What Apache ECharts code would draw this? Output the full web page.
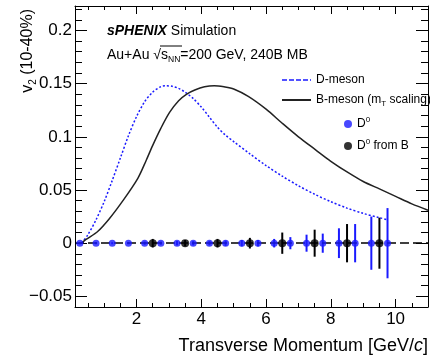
<!DOCTYPE html>
<html>
<head>
<meta charset="utf-8">
<script src="https://cdn.jsdelivr.net/npm/echarts@6/dist/echarts.min.js"></script>
<style>
html,body{margin:0;padding:0;background:#fff;}
#c{width:430px;height:359px;}
</style>
</head>
<body>
<div id="c"></div>
<script>
// ---- data ----
const dMesonCurve = [[0.3,0.0],[0.5,0.008],[0.75,0.022],[1.0,0.039],[1.25,0.059],[1.5,0.08],[1.75,0.101],[2.0,0.119],[2.25,0.133],[2.5,0.142],[2.75,0.1472],[2.9,0.148],[3.1,0.1475],[3.3,0.1455],[3.5,0.142],[3.75,0.136],[4.0,0.128],[4.25,0.1185],[4.5,0.109],[4.75,0.1015],[5.0,0.0955],[5.5,0.084],[6.0,0.073],[6.5,0.063],[7.0,0.054],[7.5,0.046],[8.0,0.039],[8.5,0.033],[9.0,0.028],[9.5,0.024],[9.75,0.022]];
const bMesonCurve = [[0.3,0.0],[0.44,0.0035],[0.8,0.011],[1.16,0.023],[1.58,0.04],[2.04,0.061],[2.3,0.078],[2.5,0.092],[2.75,0.108],[3.02,0.123],[3.3,0.134],[3.54,0.14],[3.8,0.144],[4.1,0.147],[4.4,0.148],[4.7,0.147],[5.0,0.145],[5.45,0.138],[6.0,0.126],[6.49,0.113],[7.0,0.1],[7.52,0.088],[8.0,0.077],[8.55,0.066],[9.0,0.058],[9.5,0.051],[10.0,0.044],[10.5,0.037],[11.0,0.031]];
const d0X = [0.25,0.75,1.25,1.75,2.25,2.75,3.25,3.75,4.25,4.75,5.25,5.75,6.25,6.75,7.25,7.75,8.25,8.75,9.25,9.75];
const d0Y = [0,0,0,0,0,0,0,0,0,0,0,0,0,0,0,0,0,0,0,0];
const d0Err = [0.001,0.001,0.001,0.001,0.0015,0.0015,0.002,0.002,0.002,0.0025,0.003,0.003,0.004,0.0057,0.008,0.009,0.014,0.018,0.025,0.033];
const d0bX = [2.5,3.5,4.5,5.5,6.5,7.5,8.5,9.5];
const d0bY = [0,0,0,0,0,0,0,0];
const d0bErr = [0.004,0.003,0.004,0.005,0.010,0.0127,0.018,0.024];
const xMajorTicks = [2,4,6,8,10];
const xMinorTicks = [0.5,1,1.5,2.5,3,3.5,4.5,5,5.5,6.5,7,7.5,8.5,9,9.5,10.5];
const yMajorTicks = [-0.05,0,0.05,0.1,0.15,0.2];
const yMinorTicks = [-0.06,-0.04,-0.03,-0.02,-0.01,0.01,0.02,0.03,0.04,0.06,0.07,0.08,0.09,0.11,0.12,0.13,0.14,0.16,0.17,0.18,0.19,0.21,0.22];

const FONT = 'Liberation Sans';
const BLUE = '#1a1aff';
const xMin = 0.1, xMax = 11, yMin = -0.06, yMax = 0.223;

function xAxisDef(pos, ticks, len, showLine, showLabel) {
  return {
    type: 'value', min: xMin, max: xMax, position: pos,
    axisLine: {show: showLine, onZero: false, lineStyle: {color: '#000', width: 1}},
    axisTick: {show: true, inside: true, length: len, customValues: ticks, lineStyle: {color: '#000', width: 1}},
    axisLabel: {show: showLabel, customValues: ticks, fontFamily: FONT, fontSize: 17, color: '#000', margin: 4},
    splitLine: {show: false}
  };
}
function yAxisDef(pos, ticks, len, showLine, showLabel) {
  return {
    type: 'value', min: yMin, max: yMax, position: pos,
    axisLine: {show: showLine, onZero: false, lineStyle: {color: '#000', width: 1}},
    axisTick: {show: true, inside: true, length: len, customValues: ticks, lineStyle: {color: '#000', width: 1}},
    axisLabel: {show: showLabel, customValues: ticks, fontFamily: FONT, fontSize: 17, color: '#000', margin: 3,
      formatter: v => String(+v.toFixed(3)).replace('-', '\u2212')},
    splitLine: {show: false}
  };
}
function errData(xs, ys, es) { return xs.map((x, i) => [x, ys[i] - es[i], ys[i] + es[i]]); }
function errSeries(data, color) {
  return {
    type: 'custom', xAxisIndex: 0, yAxisIndex: 0, data: data, z: 4, silent: true,
    encode: {x: 0, y: [1, 2]},
    renderItem: function (params, api) {
      const p1 = api.coord([api.value(0), api.value(1)]);
      const p2 = api.coord([api.value(0), api.value(2)]);
      return {type: 'line', shape: {x1: p1[0], y1: p1[1], x2: p2[0], y2: p2[1]}, style: {stroke: color, lineWidth: 2}};
    }
  };
}

const chart = echarts.init(document.getElementById('c'), null, {renderer: 'canvas'});
const richBase = {
  t: {fontFamily: FONT, fontSize: 12, color: '#000', lineHeight: 16},
  sub: {fontFamily: FONT, fontSize: 8, color: '#000', lineHeight: 16, verticalAlign: 'bottom'},
  sup: {fontFamily: FONT, fontSize: 8, color: '#000', lineHeight: 16, verticalAlign: 'top'}
};
chart.setOption({
  animation: false,
  grid: {left: 75, right: 2, top: 6, bottom: 52},
  xAxis: [
    xAxisDef('bottom', xMajorTicks, 8, true, true),
    xAxisDef('bottom', xMinorTicks, 4, false, false),
    xAxisDef('top', xMajorTicks, 8, true, false),
    xAxisDef('top', xMinorTicks, 4, false, false)
  ],
  yAxis: [
    yAxisDef('left', yMajorTicks, 12, true, true),
    yAxisDef('left', yMinorTicks, 7, false, false),
    yAxisDef('right', yMajorTicks, 12, true, false),
    yAxisDef('right', yMinorTicks, 7, false, false)
  ],
  legend: [
    {
      data: [
        {name: 'D-meson', lineStyle: {type: [5, 2], color: BLUE, width: 1.5}, itemStyle: {opacity: 0}},
        {name: 'B-meson (mT scaling)', itemStyle: {opacity: 0}}
      ],
      itemStyle: {opacity: 0},
      orient: 'vertical', left: 276, top: 69, itemWidth: 29, itemHeight: 12, itemGap: 8,
      textStyle: {fontFamily: FONT, fontSize: 12, color: '#000', rich: richBase},
      formatter: n => n === 'D-meson' ? '{t|D-meson}' : '{t|B-meson (m}{sub|T}{t| scaling)}'
    },
    {
      data: [{name: 'D0', icon: 'circle'}, {name: 'D0 from B', icon: 'circle'}],
      orient: 'vertical', left: 339, top: 111, itemWidth: 8, itemHeight: 8, itemGap: 8,
      textStyle: {fontFamily: FONT, fontSize: 12, color: '#000', rich: richBase},
      formatter: n => n === 'D0' ? '{t|D}{sup|0}' : '{t|D}{sup|0}{t| from B}'
    }
  ],
  graphic: [
    {type: 'text', x: 107, y: 31, style: {
      text: '{b|sPHENIX}{r| Simulation}', verticalAlign: 'middle',
      rich: {b: {fontFamily: FONT, fontSize: 14, fontWeight: 'bold', fontStyle: 'italic', fill: '#000'},
             r: {fontFamily: FONT, fontSize: 14, fill: '#000'}}}},
    {type: 'text', x: 107, y: 55, style: {
      text: '{r|Au+Au \u221A}{r|s}{s|NN}{r|=200 GeV, 240B MB}', verticalAlign: 'middle',
      rich: {r: {fontFamily: FONT, fontSize: 14, fill: '#000', lineHeight: 18},
             s: {fontFamily: FONT, fontSize: 8.5, fill: '#000', lineHeight: 18, verticalAlign: 'bottom'}}}},
    {type: 'line', shape: {x1: 160, y1: 46, x2: 182, y2: 46}, style: {stroke: '#000', lineWidth: 1}},
    {type: 'text', x: 28, y: 9, rotation: Math.PI / 2, style: {
      text: '{v|v}{s|2}{v| (10-40%)}', align: 'right', verticalAlign: 'middle',
      rich: {v: {fontFamily: FONT, fontSize: 16, fill: '#000', lineHeight: 20},
             s: {fontFamily: FONT, fontSize: 10, fill: '#000', lineHeight: 20, verticalAlign: 'bottom'}}}},
    {type: 'text', x: 428, y: 346, style: {
      text: '{r|Transverse Momentum [GeV/}{i|c}{r|]}', align: 'right', verticalAlign: 'middle',
      rich: {r: {fontFamily: FONT, fontSize: 18, fill: '#000'},
             i: {fontFamily: FONT, fontSize: 18, fontStyle: 'italic', fill: '#000'}}}}
  ],
  series: [
    {
      name: 'D-meson', type: 'line', data: dMesonCurve, smooth: 0.3, symbol: 'none', z: 2,
      lineStyle: {color: BLUE, width: 1.5, type: [2, 2]}, itemStyle: {color: BLUE}
    },
    {
      name: 'B-meson (mT scaling)', type: 'line', data: bMesonCurve, smooth: 0.3, symbol: 'none', z: 2,
      lineStyle: {color: '#222', width: 1.5}, itemStyle: {color: '#222'},
      markLine: {silent: true, symbol: 'none', label: {show: false},
        lineStyle: {color: '#000', width: 1.5, type: [9, 4]}, data: [{yAxis: 0}]}
    },
    errSeries(errData(d0X, d0Y, d0Err), BLUE),
    errSeries(errData(d0bX, d0bY, d0bErr), '#000'),
    {
      name: 'D0', type: 'scatter', data: d0X.map((x, i) => [x, d0Y[i]]), symbol: 'circle', symbolSize: 7, z: 5,
      itemStyle: {color: BLUE}
    },
    {
      name: 'D0 from B', type: 'scatter', data: d0bX.map((x, i) => [x, d0bY[i]]), symbol: 'circle', symbolSize: 8, z: 5,
      itemStyle: {color: '#000'}
    }
  ]
});
</script>
</body>
</html>
